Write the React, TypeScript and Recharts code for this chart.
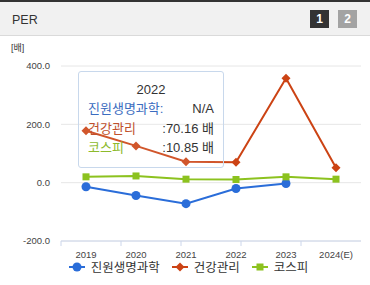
import React from 'react';
import { LineChart, Line, XAxis, YAxis, CartesianGrid, Tooltip, Legend } from 'recharts';

const years = ['2019', '2020', '2021', '2022', '2023', '2024(E)'];
const jinwon = [-14, -44, -72, -20, -3, null];
const health = [178, 126, 72, 70.16, 358, 51];
const kospi = [20, 23, 12, 10.85, 20, 12];

const yTicks = [-200, 0, 200, 400];
const edgeTicks = [0, 1, 2, 3, 4, 5, 6];

const seriesNames = ['진원생명과학', '건강관리', '코스피'];
const seriesColors = ['#2a6dd9', '#cc4314', '#8cc21f'];
const tipYear = '2022';
const tipValues = ['N/A', ':70.16 배', ':10.85 배'];
const tipLabels = ['진원생명과학:', '건강관리', '코스피'];
const tipColors = ['#3b6cc0', '#c0502c', '#8dba2c'];

const data = years.map((y, i) => ({
  year: y,
  jinwon: jinwon[i],
  health: health[i],
  kospi: kospi[i],
}));

const FONT = "'Liberation Sans', 'Noto Sans CJK KR', sans-serif";

const Circle = (props: any) => {
  const { cx, cy, index } = props;
  if (cx == null || cy == null || props.value == null) return <g key={`c${index}`} />;
  return <circle key={`c${index}`} cx={cx} cy={cy} r={4.5} fill={seriesColors[0]} />;
};

const Diamond = (props: any) => {
  const { cx, cy, index } = props;
  if (cx == null || cy == null) return <g key={`d${index}`} />;
  const r = 4.5;
  return (
    <path
      key={`d${index}`}
      d={`M${cx},${cy - r}L${cx + r},${cy}L${cx},${cy + r}L${cx - r},${cy}Z`}
      fill={seriesColors[1]}
    />
  );
};

const Square = (props: any) => {
  const { cx, cy, index } = props;
  if (cx == null || cy == null) return <g key={`s${index}`} />;
  return <rect key={`s${index}`} x={cx - 3.5} y={cy - 3.5} width={7} height={7} fill={seriesColors[2]} />;
};

const TipBox = () => (
  <div
    style={{
      width: 126,
      padding: '10px 9px 9px 9px',
      background: 'rgba(255,255,255,0.1)',
      border: '1px solid #c8d8ec',
      borderRadius: 3,
      fontFamily: FONT,
      fontSize: 13,
      color: '#333',
      pointerEvents: 'none',
    }}
  >
    <div style={{ textAlign: 'center', lineHeight: '16px', marginBottom: 1 }}>{tipYear}</div>
    {tipLabels.map((l, i) => (
      <div key={l} style={{ display: 'flex', justifyContent: 'space-between', lineHeight: '19.5px' }}>
        <span style={{ color: tipColors[i] }}>{l}</span>
        <span>{tipValues[i]}</span>
      </div>
    ))}
  </div>
);

const LegendIcon = ({ i }: { i: number }) => {
  const c = seriesColors[i];
  return (
    <svg width={16} height={12} style={{ marginRight: 6 }}>
      <line x1={0} y1={6} x2={16} y2={6} stroke={c} strokeWidth={2} />
      {i === 0 && <circle cx={8} cy={6} r={4.5} fill={c} />}
      {i === 1 && <path d="M8,1.5L12.5,6L8,10.5L3.5,6Z" fill={c} />}
      {i === 2 && <rect x={4.5} y={2.5} width={7} height={7} fill={c} />}
    </svg>
  );
};

const LegendBox = () => (
  <div
    style={{
      display: 'flex',
      justifyContent: 'center',
      alignItems: 'center',
      gap: 12,
      fontFamily: FONT,
      fontSize: 12.5,
      color: '#333',
      paddingLeft: 16,
    }}
  >
    {seriesNames.map((n, i) => (
      <div key={n} style={{ display: 'flex', alignItems: 'center' }}>
        <LegendIcon i={i} />
        <span>{n}</span>
      </div>
    ))}
  </div>
);

export default function App() {
  return (
    <div style={{ position: 'absolute', left: 0, top: 0, width: 370, height: 285, background: '#fff', overflow: 'hidden' }}>
      <div
        style={{
          position: 'absolute',
          left: 0,
          top: 0,
          width: 370,
          height: 33,
          background: '#f1f1f1',
          borderTop: '2px solid #333',
          borderBottom: '1px solid #dadada',
        }}
      >
        <div style={{ position: 'absolute', left: 12, top: 11, fontFamily: FONT, fontSize: 12.5, color: '#333' }}>PER</div>
        <div
          style={{
            position: 'absolute', left: 310, top: 8, width: 19, height: 18, background: '#333', color: '#fff',
            fontFamily: FONT, fontSize: 12, fontWeight: 'bold', textAlign: 'center', lineHeight: '18px',
          }}
        >
          1
        </div>
        <div
          style={{
            position: 'absolute', left: 338, top: 8, width: 19, height: 18, background: '#a3a3a3', color: '#fff',
            fontFamily: FONT, fontSize: 12, fontWeight: 'bold', textAlign: 'center', lineHeight: '18px',
          }}
        >
          2
        </div>
      </div>
      <div style={{ position: 'absolute', left: 11, top: 41, fontFamily: FONT, fontSize: 9, color: '#333' }}>[배]</div>
      <div style={{ position: 'absolute', left: 0, top: 35 }}>
        <LineChart width={370} height={250} data={data} margin={{ top: 31, right: 9, left: 0, bottom: 4 }}>
          <CartesianGrid vertical={false} stroke="#e6e6e6" />
          <XAxis
            xAxisId="edge"
            type="number"
            domain={[0, 6]}
            ticks={edgeTicks}
            tick={() => <g />}
            axisLine={{ stroke: '#ccd6eb' }}
            tickLine={{ stroke: '#ccd6eb' }}
            tickSize={5}
            height={1}
          />
          <XAxis
            xAxisId="main"
            dataKey="year"
            padding={{ left: 25, right: 25 }}
            axisLine={false}
            tickLine={false}
            tickMargin={3}
            height={15}
            tick={{ fontSize: 9.5, fill: '#444', fontFamily: FONT }}
            interval={0}
          />
          <YAxis
            domain={[-200, 400]}
            ticks={yTicks}
            width={61}
            axisLine={false}
            tickLine={false}
            tickMargin={5}
            tickFormatter={(v: number) => v.toFixed(1)}
            tick={{ fontSize: 9.5, fill: '#444', fontFamily: FONT }}
          />
          <Line xAxisId="main" dataKey="jinwon" stroke={seriesColors[0]} strokeWidth={2} dot={Circle} activeDot={false} isAnimationActive={false} />
          <Line xAxisId="main" dataKey="health" stroke={seriesColors[1]} strokeWidth={2} dot={Diamond} activeDot={false} isAnimationActive={false} />
          <Line xAxisId="main" dataKey="kospi" stroke={seriesColors[2]} strokeWidth={2} dot={Square} activeDot={false} isAnimationActive={false} />
          <Legend verticalAlign="bottom" height={24} content={() => <LegendBox />} />
          <Tooltip
            active
            defaultIndex={3}
            cursor={false}
            position={{ x: 78, y: 36 }}
            content={() => <TipBox />}
            isAnimationActive={false}
            wrapperStyle={{ zIndex: 5 }}
          />
        </LineChart>
      </div>
    </div>
  );
}
